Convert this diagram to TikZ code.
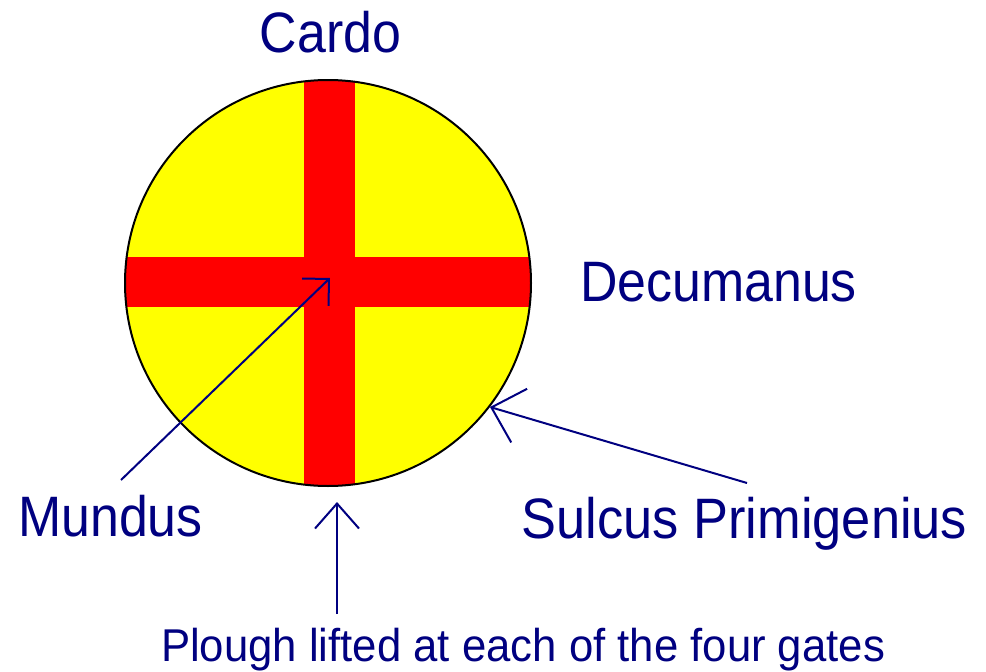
\documentclass[tikz,border=0pt]{standalone}
\usepackage{fontspec}
\usetikzlibrary{arrows.meta}
\newfontfamily\planfont[FakeStretch=0.91]{Liberation Sans}
\newfontfamily\notefont[FakeStretch=0.95]{Liberation Sans}
\definecolor{RomeNavy}{HTML}{000080}
\definecolor{RomeRed}{HTML}{FF0000}
\definecolor{RomeYellow}{HTML}{FFFF00}
\tikzset{
    % Names round the plan
    planlabel/.style={
        text=RomeNavy,
        inner sep=0pt,
        anchor=base,
        font=\planfont\fontsize{57}{60}\selectfont
    },
    % Note under the plan
    notelabel/.style={
        text=RomeNavy,
        inner sep=0pt,
        anchor=base,
        font=\notefont\fontsize{46}{50}\selectfont
    },
    % Town boundary
    furrow/.style={
        draw=black,
        line width=2pt
    },
    % Crossing streets
    street/.style={
        fill=RomeRed
    },
    % Pointer arrows with open barbs
    pointer/.style 2 args={
        draw=RomeNavy,
        line width=2pt,
        -{Straight Barb[length=#1, width=#2]}
    }
}
\begin{document}
\begin{tikzpicture}[x=1pt, y=-1pt]
    \useasboundingbox (0,0) rectangle (986,672);

    % Town and its two streets
    \fill [RomeYellow] (328,283) circle (203);
    \begin{scope}
        \clip (328,283) circle (203);
        \fill [street] (304,70) rectangle (355,496);
        \fill [street] (115,257) rectangle (541,307);
    \end{scope}
    \draw [furrow] (328,283) circle (203);

    % Labels
    \node (cardo) [planlabel] at (330.5,52) {Cardo};
    \node (decumanus) [planlabel] at (718.5,301) {Decumanus};
    \node (mundus) [planlabel] at (110.5,536) {Mundus};
    \node (sulcus) [planlabel, xscale=1.01] at (744.5,538) {Sulcus Primigenius};
    \node (plough) [notelabel] at (523,661) {Plough lifted at each of the four gates};

    % Arrow ends
    \coordinate (mundus tail) at (121,480);
    \coordinate (mundus tip) at (330,278);
    \coordinate (sulcus tail) at (747,483);
    \coordinate (sulcus tip) at (490,407);
    \coordinate (plough tail) at (337,614);
    \coordinate (plough tip) at (337,502);

    \draw [pointer={19pt}{38pt}] (mundus tail) -- (mundus tip);
    \draw [pointer={29pt}{56pt}] (sulcus tail) -- (sulcus tip);
    \draw [pointer={25pt}{44pt}] (plough tail) -- (plough tip);
\end{tikzpicture}
\end{document}
